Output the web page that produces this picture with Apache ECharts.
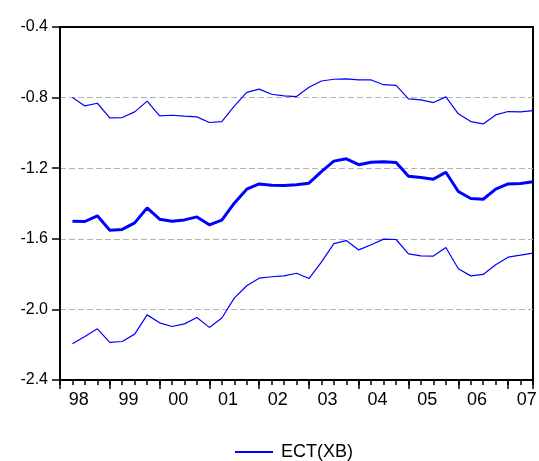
<!DOCTYPE html>
<html lang="en">
    <head>
        <meta charset="utf-8">
        <title>ECT(XB)</title>
        <script src="https://cdn.jsdelivr.net/npm/echarts@6/dist/echarts.min.js"></script>
        <style>
            body { margin: 0; background: #fff; }
            .echarts_line { width: 539px; height: 461px; }
        </style>
    </head>
    <body>
        <div class="echarts_line"></div>

        <script type="text/javascript">
            // year labels, one per 4 quarters
            let yearLabels = ['98', '99', '00', '01', '02', '03', '04', '05', '06', '07'];

            // ECT(XB) and its upper / lower bands, quarterly
            let ectValues = [
                -1.500, -1.502, -1.470, -1.551, -1.547, -1.510, -1.425, -1.489, -1.500, -1.493,
                -1.476, -1.521, -1.494, -1.398, -1.319, -1.289, -1.296, -1.298, -1.294, -1.285,
                -1.219, -1.160, -1.147, -1.180, -1.166, -1.164, -1.168, -1.245, -1.253, -1.262,
                -1.223, -1.332, -1.372, -1.376, -1.319, -1.289, -1.287, -1.277
            ];
            let upperValues = [
                -0.800, -0.847, -0.832, -0.915, -0.913, -0.881, -0.820, -0.904, -0.900, -0.905,
                -0.909, -0.941, -0.936, -0.848, -0.770, -0.752, -0.781, -0.790, -0.794, -0.741,
                -0.706, -0.696, -0.694, -0.700, -0.700, -0.727, -0.731, -0.807, -0.813, -0.828,
                -0.796, -0.892, -0.936, -0.949, -0.898, -0.879, -0.881, -0.874
            ];
            let lowerValues = [
                -2.195, -2.153, -2.110, -2.187, -2.182, -2.140, -2.031, -2.076, -2.097, -2.082,
                -2.046, -2.102, -2.049, -1.936, -1.866, -1.823, -1.815, -1.810, -1.795, -1.825,
                -1.732, -1.627, -1.610, -1.663, -1.634, -1.602, -1.604, -1.685, -1.697, -1.698,
                -1.649, -1.770, -1.810, -1.802, -1.747, -1.704, -1.693, -1.681
            ];

            let nObs = ectValues.length;

            // pair each value with its quarter index (1..n)
            function toPairs(list){
                return list.map((v, i) => [i + 1, v]);
            }

            let fontName = '"Liberation Sans", Arial, sans-serif';

            let Chart = echarts.init(document.getElementsByClassName('echarts_line')[0]);

            let option = {
                animation: false,
                backgroundColor: '#fff',
                grid: {
                    left: 60,
                    right: 6,
                    top: 27,
                    bottom: 81,
                    outerBoundsMode: 'none',
                    show: true,
                    borderColor: '#000',
                    borderWidth: 2
                },
                legend: {
                    data: ['ECT(XB)'],
                    left: 230,
                    top: 437,
                    icon: 'rect',
                    itemWidth: 38,
                    itemHeight: 2,
                    itemStyle: { color: '#0000ff' },
                    textStyle: {
                        fontFamily: fontName,
                        fontSize: 18,
                        color: '#000',
                        lineHeight: 20,
                        padding: [0, 0, 0, 3]
                    }
                },
                xAxis: [
                    {
                        // quarter ticks
                        type: 'value',
                        position: 'bottom',
                        min: 0,
                        max: nObs,
                        interval: 1,
                        z: 3,
                        axisLine: { show: true, lineStyle: { color: '#000', width: 2 } },
                        axisTick: { show: true, length: 5, lineStyle: { color: '#000', width: 1.5 } },
                        axisLabel: { show: false },
                        splitLine: { show: false }
                    },
                    {
                        // year ticks
                        type: 'value',
                        position: 'bottom',
                        min: 0,
                        max: nObs,
                        interval: 4,
                        axisLine: { show: false },
                        axisTick: { show: true, length: 9, lineStyle: { color: '#000', width: 1.5 } },
                        axisLabel: { show: false },
                        splitLine: { show: false }
                    },
                    {
                        // year labels in the middle of each year
                        type: 'value',
                        position: 'bottom',
                        min: 0,
                        max: nObs,
                        interval: 0.5,
                        axisLine: { show: false },
                        axisTick: { show: false },
                        splitLine: { show: false },
                        axisLabel: {
                            show: true,
                            margin: 11,
                            fontFamily: fontName,
                            fontSize: 18,
                            color: '#000',
                            formatter: function(v){
                                let j = (v - 1.5) / 4;
                                if(Number.isInteger(j) && j >= 0 && j < yearLabels.length){
                                    return yearLabels[j];
                                }
                                return '';
                            }
                        }
                    },
                    {
                        // top frame line
                        type: 'value',
                        position: 'top',
                        min: 0,
                        max: nObs,
                        z: 3,
                        axisLine: { show: true, lineStyle: { color: '#000', width: 2 } },
                        axisTick: { show: false },
                        axisLabel: { show: false },
                        splitLine: { show: false }
                    }
                ],
                yAxis: [
                    {
                        type: 'value',
                        position: 'left',
                        min: -2.4,
                        max: -0.4,
                        interval: 0.4,
                        axisLine: { show: true, lineStyle: { color: '#000', width: 2 } },
                        axisTick: { show: true, length: 8, lineStyle: { color: '#000', width: 1.5 } },
                        axisLabel: {
                            margin: 12,
                            fontFamily: fontName,
                            fontSize: 16,
                            color: '#000',
                            padding: [0, 0, 9, 0],
                            formatter: function(v){ return v.toFixed(1); }
                        },
                        splitLine: {
                            show: true,
                            lineStyle: { color: '#b4b4b4', type: [6, 3], width: 1 }
                        }
                    },
                    {
                        // right frame line
                        type: 'value',
                        position: 'right',
                        min: -2.4,
                        max: -0.4,
                        z: 3,
                        axisLine: { show: true, lineStyle: { color: '#000', width: 2 } },
                        axisTick: { show: false },
                        axisLabel: { show: false },
                        splitLine: { show: false }
                    }
                ],
                series: [
                    {
                        name: 'upper',
                        type: 'line',
                        xAxisIndex: 0,
                        yAxisIndex: 0,
                        showSymbol: false,
                        symbol: 'none',
                        lineStyle: { color: '#0000ff', width: 1.2 },
                        data: toPairs(upperValues)
                    },
                    {
                        name: 'ECT(XB)',
                        type: 'line',
                        xAxisIndex: 0,
                        yAxisIndex: 0,
                        showSymbol: false,
                        symbol: 'none',
                        itemStyle: { color: '#0000ff' },
                        lineStyle: { color: '#0000ff', width: 3 },
                        data: toPairs(ectValues)
                    },
                    {
                        name: 'lower',
                        type: 'line',
                        xAxisIndex: 0,
                        yAxisIndex: 0,
                        showSymbol: false,
                        symbol: 'none',
                        lineStyle: { color: '#0000ff', width: 1.2 },
                        data: toPairs(lowerValues)
                    }
                ]
            };

            Chart.setOption(option);
        </script>
    </body>
</html>
